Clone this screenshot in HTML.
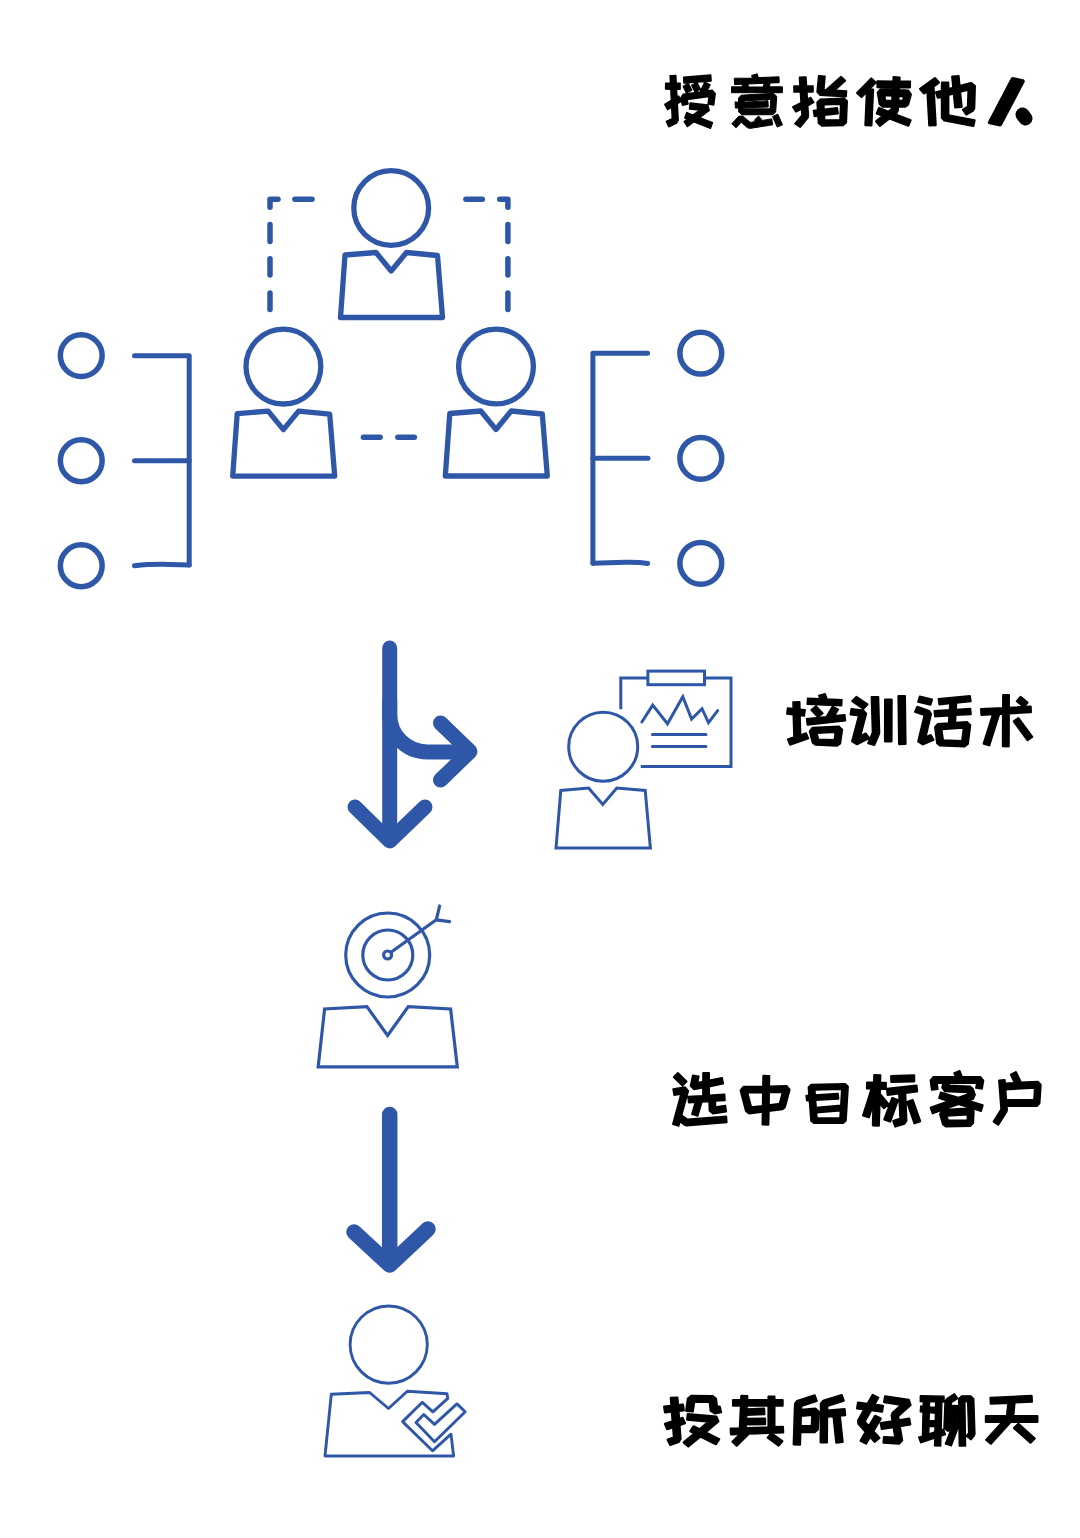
<!DOCTYPE html>
<html><head><meta charset="utf-8">
<style>
html,body{margin:0;padding:0;background:#fff;}
body{width:1080px;height:1538px;position:relative;overflow:hidden;font-family:"Liberation Sans",sans-serif;}
svg{position:absolute;left:0;top:0;}
</style></head><body>
<svg width="1080" height="1538" viewBox="0 0 1080 1538" fill="none" stroke="#2F57A8" stroke-linecap="round" stroke-linejoin="round">
  <g stroke-width="5.5">
    <path d="M270 207.2 V199.3 H278"/>
    <path d="M294.9 199.3 H312"/>
    <path d="M465.9 199.3 H482.3"/>
    <path d="M499.7 199.3 H507.9 V207.2"/>
    <path d="M270 224.5 V241.4 M270 258.7 V275.1 M270 293 V309.4"/>
    <path d="M507.9 224.5 V241.4 M507.9 258.7 V275.1 M507.9 293 V309.4"/>
    <path d="M363.4 437.2 H380.2 M397.8 437.2 H414.4"/>
  </g>
  <g stroke-width="5.3">
    <circle cx="391.2" cy="208" r="37.4"/>
    <path d="M340.5 317.5 L345.0 255.0 L376.0 252.5 L391.2 271.0 L406.4 252.5 L437.5 255.5 L442.5 317.5 Z"/>
    <circle cx="283.4" cy="366.6" r="37.4"/>
    <path d="M232.7 476.1 L237.2 413.6 L268.2 411.1 L283.4 429.6 L298.6 411.1 L329.7 414.1 L334.7 476.1 Z"/>
    <circle cx="496" cy="366.5" r="37.4"/>
    <path d="M445.3 476.0 L449.8 413.5 L480.8 411.0 L496.0 429.5 L511.2 411.0 L542.3 414.0 L547.3 476.0 Z"/>
  </g>
  <g stroke-width="5.5">
    <circle cx="81.25" cy="355.6" r="20.9"/>
    <circle cx="81.25" cy="460.75" r="20.9"/>
    <circle cx="81.25" cy="565.75" r="20.9"/>
    <circle cx="700.8" cy="353.2" r="20.9"/>
    <circle cx="700.8" cy="458.3" r="20.9"/>
    <circle cx="700.8" cy="563.3" r="20.9"/>
  </g>
  <g stroke-width="5">
    <path d="M134.5 355.8 H189.2 V565"/>
    <path d="M134.5 460.8 H189.2"/>
    <path d="M134.5 565.8 Q150 564 170 564.4 L189.2 565"/>
    <path d="M647.6 353.3 H592.9 V563.2"/>
    <path d="M648 458.3 H592.9"/>
    <path d="M592.9 563.2 L625 562.2 Q640 562 647.6 563.5"/>
  </g>
  <g stroke-width="15">
    <path d="M389.7 648 V840"/>
    <path d="M355 807 L389.7 841 L425 807"/>
    <path d="M389.7 700 V714.4 A37.5 37.5 0 0 0 427.2 751.9 H468"/>
    <path d="M440.5 723 L470 751.5 L440.5 780"/>
  </g>
  <g stroke-width="15.5">
    <path d="M389.7 1114.5 V1264"/>
    <path d="M354 1232 L389.7 1265 L428 1229"/>
  </g>
  <g stroke-width="3" stroke-linejoin="miter" stroke-miterlimit="4">
    <circle cx="603.2" cy="746.7" r="34.5"/>
    <path d="M556 848 L560.8 790.4 L588.6 788 L602.8 804.5 L616.8 788 L645.2 790.4 L650.4 848 Z"/>
    <path d="M620.8 709.3 V678 H647.9 M704.5 678 H731 V766.5 H640.7" stroke-linecap="butt"/>
    <rect x="647.9" y="671.1" width="56.6" height="13.6"/>
    <path d="M641.9 722 L652.7 705.1 L667.5 723.8 L682.8 696.7 L691.6 719 L702 708.7 L708.5 722.6 L717.7 710.6"/>
    <path d="M652.4 734.4 H706 M652.4 746.4 H706"/>
  </g>
  <g stroke-width="3.2" stroke-linejoin="miter" stroke-miterlimit="4">
    <circle cx="387.7" cy="955" r="42"/>
    <circle cx="387.8" cy="955" r="25"/>
    <circle cx="387.6" cy="955" r="4"/>
    <path d="M391 952.3 L436.3 919.8 M436.3 919.8 L439.6 906 M436.3 919.8 L449.6 921.7"/>
    <path d="M318.2 1066.8 L324.6 1009 L366.9 1006.6 L387.6 1035.5 L408.3 1006.6 L450.6 1009 L457.3 1066.8 Z"/>
  </g>
  <g stroke-width="2.9" stroke-linejoin="round">
    <circle cx="388.7" cy="1344.6" r="38.6"/>
    <path d="M325 1456 L331.3 1394.3 L369.6 1392.5 L388.5 1408.5 L407.3 1391.3 L447 1393.7 L447.8 1398.4 L432.9 1411.8 L422.3 1402.3 L402.6 1421.6 L432.5 1450.8 L451 1434.2 L453.6 1456 Z"/>
    <path d="M416 1422.4 L423.8 1414.5 L434.5 1424.4 L456.9 1403.9 L465.2 1411.8 L434.5 1441.7 Z"/>
  </g>
  <g fill="#000" stroke="#000" stroke-linejoin="round"><path stroke-width="1.5" d="M710.7 75 711.1 80.9 684 83.1 683.7 77.2ZM676.9 97.1 678.6 96.1 681.5 101.2 677.3 103.7 678.2 120.2 676.5 123.1 668.8 126.8 666.4 121.4 672.3 118.6 671.7 107.1 667.6 109.6 664.8 104.4 671.4 100.4 670.8 89.2 665.6 89.1 665.7 83.2 670.5 83.3 670.1 75.7 675.8 75.4 676.2 83.3H680.1V89.2H676.5ZM683.3 94.2 700.1 91.9 705 82.2 710 85 706.9 90.9 712.1 90.2 715.2 93.5 713.7 104.9 708.1 104.1 709 96.6 687.1 99.6 688 103.9 682.5 105.2 680.9 97.8ZM696.9 82.5 700.2 89.1 695.1 91.9 691.8 85.3ZM688.3 83.6 691.6 90.1 686.5 92.9 683.3 86.3ZM687.6 119.2 684.8 118.1 686.8 112.6 693.1 115.1 699.8 110.1 689.5 108.9 690.1 103 707.8 105.1 709.2 110.5 699.5 117.7 712.4 122.7 710.4 128.2 694 121.7 687.5 126.5 684.2 121.7Z"/>
<path stroke-width="1.0" d="M752.3 77.9 751.6 75.4 757.2 73.8 758.3 77.6 779 76.8 779.2 82.7 770.1 83 769.3 86.8H782.4V92.7H731.5V86.8H742.5L742 84.2L734.6 84.6L734.3 78.6ZM763.3 86.8 764.1 83.3 747.9 84 748.4 86.8ZM738.5 102 738.5 98.2 741.1 95.2 773.6 93.3 776.7 96.4 775.7 111.9 772.9 114.7 741.6 114.8 738.7 111.9 738.6 108 735.4 108.1 735.1 102.2ZM768 101 768.2 107 744.4 107.8 744.5 108.8 770.1 108.8 770.7 99.3 744.4 101V101.9ZM777.9 114.4 782.5 124.8 777.2 127.1 772.7 116.8ZM741.1 122.4 736.1 127.8 731.8 123.8 738.7 116.3 742.7 116 750.3 122.4 755.7 121.5 754.4 120.1 758.6 116.1 762.5 120.4 771.7 118.9 772.7 124.8 749.9 128.4 747.6 127.7Z"/>
<path stroke-width="1.6" d="M817.1 92 818.7 75.8 825 76.3 823.8 89.6 826.3 89.7 841 76.5 845.4 80.6 834.7 90.3 846.5 91 846.1 96.8 820.1 95.1ZM807.3 99.3 810.6 97.5 813.8 102.4 807.7 105.7 808.4 115.8 807.9 117.7 800.1 127.2 794.9 123.7 802 115.2 801.6 109 796 111.9 792.8 107 801.1 102.6 800.4 91.9H794V86.1H800L799.5 77.4L805.9 77L806.5 86.1H813V91.9H806.9ZM817.6 110.1 817.1 102.3 820.2 99.2 843.9 98.2 847.2 101.2 846.3 122.7 843.1 125.5 821.8 125.9 818.5 123.2 818 116 814.4 116.4 813.5 110.6ZM837.3 107.8 838.1 113.6 824.4 115.2 824.6 120 840 119.7 840.7 104.2 823.8 104.8 824 109.4Z"/>
<path stroke-width="2.2" d="M897.8 110.6 896.7 112.8 894.9 114.2 910.6 120.2 908.4 125.7 889.5 118.4 879.8 125.9 876.1 121.4 883 115.8 876.8 113.4 879.1 108 888.4 111.7 891.7 109 891.9 106.6H882.7L879.7 104.1L877.8 92.5L880.9 89.1L892.8 89.8L893 87.4L877.5 87.2L877.5 81.3L893.4 81.5L893.6 77.1L899.6 77.5L899.4 81.5L910 81.6L909.9 87.5L899.1 87.4L898.9 90.2L908.2 90.7L910.9 94.3L908.1 104.5L905.2 106.6H898ZM871.3 78.5 875.7 82.6 868.9 89.5 873.1 89.7 871.4 125.5 865.4 125.2 866.9 91.5 861.5 97 857.1 93ZM892.5 95.6 884.3 95.1 885.2 100.8H892.2ZM898.3 100.8H902.9L904.1 96.3L898.6 96Z"/>
<path stroke-width="2.2" d="M948.3 95V115.4L974.6 120.3L973.3 125.9L944.4 120.5L941.9 117.7V96.7L937.8 97.7L936 92.2L941.9 90.7V82.7H948.3V89L953.3 87.7L952.2 76.6L958.6 76.1L959.5 86L970.9 83L974.9 85.9L974.2 108.5L972.7 110.9L966.3 114.5L963 109.6L967.9 106.8L968.5 89.6L960.1 91.8L961.6 106.8L955.2 107.3L953.8 93.5ZM934.9 78.1 938.9 82.5 933.5 86.5 935.7 125.1 929.3 125.4 927.4 91 924.1 93.4 920.1 88.9Z"/>
<path stroke-width="1.5" d="M1011.5 78.5 Q1012.5 77.5 1014 78 L1023 80 Q1024.5 80.8 1023.8 82 L1001.5 124.5 Q1000.5 126 999 125.6 L989.5 123.6 Q988 123 988.8 121.8 Z"/><path stroke-width="14" stroke-linecap="round" d="M1022.5 114.5 L1025.5 118.5"/>
<path stroke-width="1.6" d="M807.6 698.2 819.9 698.8 818.8 695.6 825.1 693.8 827 699.1 841.9 699.7 841.6 705.6 807.3 704.2ZM794 737.1 793.3 714.7 786.8 713.9 787.6 708 793.2 708.6 793 702 799.7 701.8 799.9 709.4 805.1 709.9 804.3 715.9 800 715.4 800.6 734.9 806.1 733 808.5 738.6 790 744.9 787.6 739.3ZM816 706.1 822.9 713.3 817.9 717.2 811.1 710ZM826.3 716.8 832.4 706.5 838.3 709.4 834.5 715.9 844.7 714.7 845.5 720.7 807.4 724.9 806.6 718.9ZM812.5 742.8 809.5 731.2 812.5 727.5 839 726.2 842.4 729.5 840.4 743.5 837 746 815.6 745ZM835.3 732.3 816.9 733.3 818.4 739.3 834.3 739.9Z"/>
<path stroke-width="2.2" d="M898.5 696.2 904.9 696.1 905.5 744 899.1 744.1ZM852.3 701.1 856.4 697 867.4 704.5 863.2 708.6ZM868.2 743.1 872.8 732.6 871.7 697.2 878.2 697 879.2 732.9 879 733.9 874.3 744.9ZM885 741.3 885.1 699.5H891.6L891.5 741.3ZM852.2 741.4 859.1 715.3 850.6 714.4 851.5 709.1 863.3 710.5 866.1 713.7 860.1 736.4 865.8 733.6 869.1 738.1 857 744.2Z"/>
<path stroke-width="1.8" d="M955.2 722.7 967 722 970.4 725.1 968 744 964.7 746.5 940.1 745.7 937 743.2 934.9 727 937.8 723.9 948.7 723.2 949.2 715.6 934.9 716.5 934.4 711 949.6 710 950 703.4 939.3 704.5 938.5 698.9 970 695.9 970.8 701.4 956.4 702.8 956 709.6 970.4 708.7 970.9 714.3 955.7 715.2ZM918 701.9 919.7 696.5 932.2 699.5 930.5 704.9ZM918 741.6 924.4 715.2 914.9 711.9 917.2 706.7 929.2 710.8 931.2 714 925.7 737 930.8 734.9 933.6 739.9 922.6 744.6ZM962 740.8 963.6 727.8 941.6 729.3 943.1 740.2Z"/>
<path stroke-width="2.2" d="M1008.7 746.3 1002.9 746.2 1003 713.7 999.2 713.9 989.2 745.3 983.7 743.6 993.1 714.2 981.4 714.8 981.1 709.1 1003.1 708 1003.2 695.1H1008.9L1008.8 707.8L1030.6 706.6L1030.9 712.2L1008.8 713.4ZM1016.9 701.2 1020.5 696.9 1027.5 702.6 1023.9 706.9ZM1013.8 721.4 1018.4 718.1 1032.2 736.8 1027.5 740Z"/>
<path stroke-width="1.8" d="M715.4 1107.2 725.3 1105.7 726.2 1111.5 713 1113.6 709.5 1110.7 709.2 1101.3 701.8 1101.8 697.7 1115.8 692 1114.2 695.5 1102.1 688.7 1102.5 688.2 1096.6 703 1095.8V1087.7L694.1 1089.4L690.6 1085.9L692.9 1075.3L698.7 1076.5L697.4 1082.8L703 1081.7L703.1 1072.9H709.1V1080.5L722.1 1077.9L723.2 1083.7L709.1 1086.5V1095.4L724.5 1094.4L724.9 1100.3L715.3 1100.9ZM673.7 1077.2 677.9 1073 686.6 1081.5 682.4 1085.6ZM687.4 1119.5 726.3 1116.5 726.7 1122.4 686.8 1125.5 684.7 1125 679.9 1121.4 678.7 1125.8 672.9 1124.2 681.2 1093.8 674.2 1095 673.2 1089.2 684.9 1087.2 688.2 1090.9 681.5 1115.2Z"/>
<path stroke-width="2.2" d="M740.7 1090.4 743.5 1086.9 763.2 1086.6 763.4 1075.9 769.2 1076 769 1086.5 786.7 1086.2 789.5 1089.8 784.8 1107.1 782.4 1109.2 768.6 1110.9 768.3 1124.6 762.6 1124.5 762.8 1111.6 749.2 1113.3 746.1 1111.2ZM768.7 1105.3 779.8 1103.9 782.9 1091.9 768.9 1092.2ZM762.9 1106 763.1 1092.3 747.2 1092.5 751.1 1107.4Z"/>
<path stroke-width="2.2" d="M809.3 1095.7 808.7 1087.4 811.4 1084.9 845 1084.1 847.8 1086.6 845.7 1120.6 843 1122.9 814 1122.9 811.3 1120.8 809.7 1100.3 807 1100.5 806.5 1095.8ZM837.8 1093.9 838.3 1098.6 815.2 1100 815.9 1107.9 841.1 1105.6 842.1 1088.9 814.5 1089.6 814.9 1095.3ZM840.8 1110.3 816.2 1112.5 816.7 1118.3 840.3 1118.1Z"/>
<path stroke-width="2.2" d="M879.9 1088.8 879.8 1094.6 880.1 1094.3 888.5 1104.3 883.8 1108.1 879.5 1102.9 878.8 1125.7 872.9 1125.4 873.5 1102.7 868.8 1117.3 863.1 1115.5 871.7 1088.7 867 1088.5 867.1 1082.6 874.1 1082.7 874.3 1075.1 880.3 1075.3 880.1 1082.8 885.8 1082.9 885.7 1088.8ZM891.2 1076 914.1 1075.3 914.2 1081.3 891.4 1082ZM906.4 1120.6 904.4 1123.6 895.3 1126.5 893.3 1121 900.4 1118.6 899.2 1093.5 887.7 1094.8 887 1088.9 916.4 1085.5 917.1 1091.4 905.2 1092.8ZM884.4 1119.4 892.2 1098.1 897.9 1100.1 890.1 1121.5ZM907.1 1102 912.7 1100 920.2 1121.3 914.5 1123.3Z"/>
<path stroke-width="1.8" d="M933.4 1076.8 955.6 1076.9 954.2 1073.1 959.7 1070.9 962.1 1077 980.5 1077 983.4 1080.6 982 1088.9 976 1087.9 976.9 1083.1 949.5 1083 949 1085.4 969.9 1086.3 972.7 1088.4 975 1094.9 973.2 1098.8 968.1 1100.7 982.8 1105.2 981.1 1111.1 958.5 1104.2 932.6 1113.5 930.5 1107.7 948.6 1101.2 939 1098.2 940.8 1092.3 958.3 1097.7 968.3 1094.1 967.7 1092.4 944.9 1091.4 942.1 1087.6 943.3 1083 936.9 1082.9 937.8 1089.1 931.8 1089.9 930.5 1080.3ZM939.9 1113.9 942.6 1110 970.6 1108.1 973.8 1111.3 973.2 1123.2 970.3 1126 945.9 1126.7 942.9 1124.6ZM967.4 1120.1 967.6 1114.5 946.8 1115.9 948.1 1120.5Z"/>
<path stroke-width="2.2" d="M1006.5 1105.9 1006.9 1109.8 1006.4 1111.7 998.2 1124.6 993.7 1121.5 1001.4 1109.3 999.2 1080.6 1004.6 1080.2 1004.8 1083.6 1015 1083 1011 1074.8 1015.8 1072.1 1021 1082.7 1037.8 1081.8 1040.6 1084.8 1039.4 1103.3 1036.8 1106ZM1006.1 1100.1 1034.3 1100.2 1035 1087.6 1005.3 1089.3Z"/>
<path stroke-width="2.2" d="M709.7 1401.9 694.2 1401.7 692.8 1411.5 686.2 1410.8 687.9 1398.5 691.3 1395.9 712.8 1396.2 716 1398.8 717 1407.2 719.7 1406.7 721.1 1412.2 714.8 1413.4 710.7 1410.9ZM671.4 1405.9 670.8 1397.8 677.4 1397.5 678 1405.1 683 1404.6 683.8 1410.3 678.5 1410.9 679.1 1419.1 682.6 1417.9 685 1423.3 679.5 1425.1 680.6 1439 678.7 1441.9 670.3 1445 667.6 1439.8 673.9 1437.4 673.1 1427.2 667.3 1429.2 664.9 1423.9 672.6 1421.3 671.8 1411.7 665 1412.4 664.1 1406.7ZM694.6 1433.4 690.3 1431.2 693.5 1426.3 699.5 1429.3 708.7 1421.7 687.1 1419.7 687.8 1414 716.4 1416.6 718.4 1421.5 705.4 1432.3 719.2 1439.2 715.9 1444.2 700.5 1436.4 688.3 1446.5 683.7 1442.4Z"/>
<path stroke-width="2.2" d="M736.7 1445.6 732.5 1441.8 740.4 1434 731 1434.3 730.7 1428.6 739.8 1428.3 740.9 1405.7H733.1V1400.1H741.1L741.4 1395.9L747.3 1396.2L747.1 1400.1H768.5V1396.5H774.4V1400.1H782.6V1405.7H774.4V1427.2L782.9 1426.9L783.2 1432.5L748.8 1433.7ZM746.2 1418.8 765.1 1418.6 765.1 1424.2 745.9 1424.4 745.7 1428.2 768.5 1427.4V1405.7H746.8L746.6 1409.3L764.1 1408.5L764.4 1414.2L746.4 1414.9ZM767.8 1437.7 771.4 1433.3 782.3 1441.2 778.6 1445.6Z"/>
<path stroke-width="2.2" d="M820.9 1403.7 823.1 1400.9 841.7 1395 843.7 1400.6 827.3 1405.9 827.2 1410.7 844.6 1409.2 845.2 1415.1 839.8 1415.6 842.6 1441.9 836.3 1442.6 833.5 1416.2 827.1 1416.7 826.9 1442.4 820.6 1442.3ZM795 1403.8 797.1 1401 814.7 1395.3 816.7 1401 801.3 1406 801.1 1409.8 815.4 1408.6 818.7 1411.7 817.8 1429.4 814.7 1432.2 800.4 1431.9 800 1444.6 793.7 1444.4ZM800.6 1426 811.7 1426.2 812.3 1414.8 800.9 1415.8Z"/>
<path stroke-width="2.2" d="M865.7 1431.9 858.4 1423.8 858.1 1420.5 864.4 1409.4 857.1 1408.4 858 1402.5 867.6 1403.8 872.6 1395 878.2 1397.8 874.2 1404.7 883 1405.9 882.1 1411.7 871.1 1410.2 864.6 1421.5 868.9 1426.4 875.1 1415.8 880.7 1418.6 873.3 1431.2 879.4 1438 874.6 1441.8 870.1 1436.7 866 1443.6 860.6 1440.8ZM892.6 1421.3 891.6 1415.6 892.6 1412.9 901.6 1404.8 884.1 1402.2 885.1 1396.4 908.8 1399.9 910.6 1405 898.1 1416.1 898.8 1420.3 909.2 1418.6 910.3 1424.4 899.7 1426.2 902.2 1440.4 898.9 1443.7 883.5 1442.7 884 1437 895.3 1437.7 893.6 1427.2 881.8 1429 880.7 1423.2Z"/>
<path stroke-width="1.3" d="M945 1401 946.5 1398.7 954.3 1393.7 957.8 1398.5 951.3 1402.7 950.3 1424.7 951.4 1424.5 952 1405.4 958.2 1405.6 957.6 1428.8 957.4 1429.7 951.3 1445.9 945.3 1444 950.4 1430.7 947.5 1431.2 943.9 1428.1ZM922.4 1436 923 1412.2 920.2 1411.9 920.7 1406 923.1 1406.3 923.2 1401.7 920.2 1401.7 920.3 1395.7 944.1 1396.2 944 1402H941.9L941.2 1429.8L943.5 1429L945.5 1434.6L941 1436.1L940.8 1446.1L934.5 1445.9L934.7 1438.2L920.7 1442.8L918.6 1437.2ZM961.8 1395.8H970.6L973.8 1398.7L975 1434L974.2 1436L970.9 1439.7L966.2 1435.9L968.6 1433L967.6 1401.8H964.9L965.6 1446L959.2 1446.1L958.6 1398.8ZM935.5 1407.3 935.6 1401.9 929.6 1401.8 929.4 1406.8ZM935.2 1420.4 935.4 1413.3 929.3 1412.7 929.1 1420.7ZM934.8 1431.9 935 1426.3 929 1426.5 928.8 1433.9Z"/>
<path stroke-width="2.2" d="M1002.5 1421.9H985.9V1416.2H1006.9L1008.4 1402.8L990.8 1403.6L990.5 1397.9L1031.6 1395.9L1031.9 1401.7L1014.6 1402.5L1013.2 1416.2H1037.4V1421.9H1010.6L990.8 1443.7L986.2 1440ZM1018.4 1423.9 1034.7 1438.5 1030.5 1442.7 1014 1428.1Z"/></g>

</svg>
</body></html>
